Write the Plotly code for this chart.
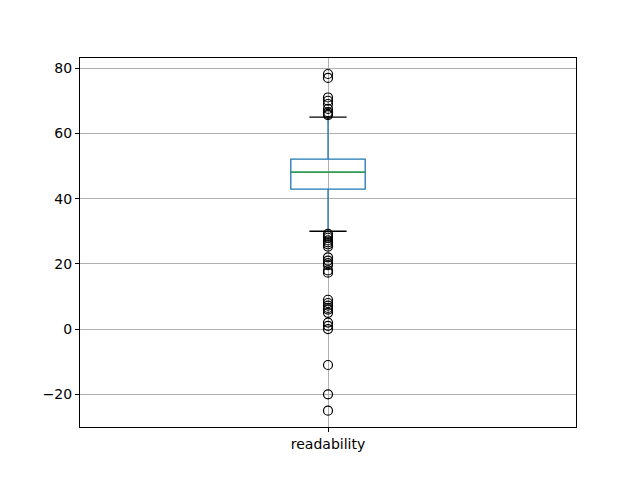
import plotly.graph_objects as go

# Box statistics for "readability"
category = "readability"
q1 = [42.9]
median = [48.1]
q3 = [52.1]
lower_fence = [30.0]
upper_fence = [65.0]

# Outliers beyond whiskers
outliers = [78.2, 77.0, 71.0, 70.0, 69.0, 67.5, 66.5, 66.0, 65.6,
            29.2, 28.6, 28.0, 27.2, 26.6, 26.0, 25.3, 22.0, 21.0, 20.2, 19.6,
            18.0, 17.3, 9.0, 8.0, 7.2, 6.5, 6.0, 5.0, 2.0, 1.0, 0.0,
            -11.0, -20.0, -25.0]

pos = 1
box_width = 0.15
cap_width = box_width / 2

fig = go.Figure()

fig.add_trace(go.Box(
    x=[pos], q1=q1, median=median, q3=q3,
    lowerfence=lower_fence, upperfence=upper_fence,
    width=box_width, whiskerwidth=0, boxpoints=False,
    line=dict(color="#1f77b4", width=1.3),
    fillcolor="rgba(0,0,0,0)", showlegend=False,
))

# green median line
fig.add_trace(go.Scatter(
    x=[pos - box_width / 2, pos + box_width / 2], y=[median[0], median[0]],
    mode="lines", line=dict(color="#2ca02c", width=1.3), showlegend=False,
))

# black caps
for v in (lower_fence[0], upper_fence[0]):
    fig.add_trace(go.Scatter(
        x=[pos - cap_width / 2, pos + cap_width / 2], y=[v, v],
        mode="lines", line=dict(color="black", width=1.3), showlegend=False,
    ))

fig.add_trace(go.Scatter(
    x=[pos] * len(outliers), y=outliers, mode="markers",
    marker=dict(symbol="circle-open", size=9, color="black",
                line=dict(width=1.2, color="black")),
    showlegend=False,
))

axis_style = dict(
    showline=True, linecolor="black", linewidth=1, mirror=True,
    ticks="outside", ticklen=4, tickcolor="black",
    showgrid=True, gridcolor="#b0b0b0", gridwidth=0.8, zeroline=False,
)

# page body has an 8px margin, so the plot area is shifted back by 8px
fig.update_layout(
    width=640, height=480,
    margin=dict(l=72, r=72, t=50, b=61),
    paper_bgcolor="white", plot_bgcolor="white",
    font=dict(family="DejaVu Sans", size=14, color="black"),
    xaxis=dict(range=[0.5, 1.5], tickvals=[pos], ticktext=[category], **axis_style),
    yaxis=dict(range=[-30.0, 83.1], tickvals=[-20, 0, 20, 40, 60, 80], **axis_style),
)

fig.write_html("out.html")
